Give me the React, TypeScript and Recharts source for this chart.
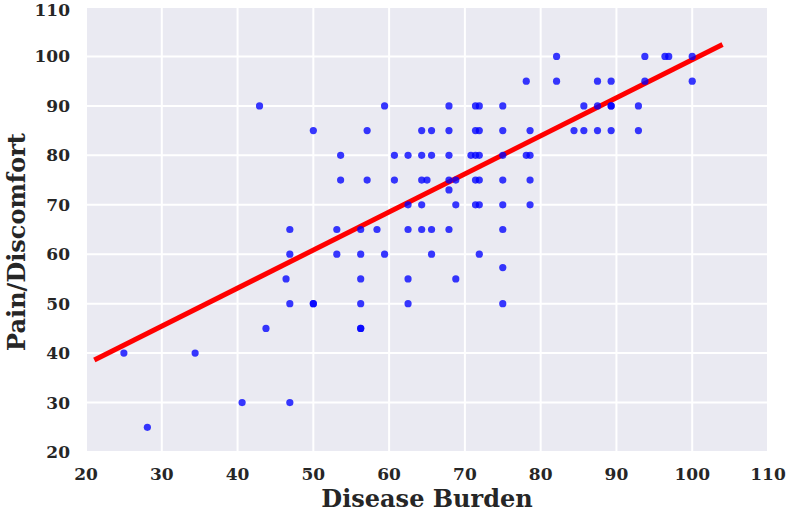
import {
  CartesianGrid,
  Label,
  ReferenceLine,
  Scatter,
  ScatterChart,
  XAxis,
  YAxis,
} from "recharts";

// Disease burden (x) and pain/discomfort (y) for each respondent
const burden = [
  25, 28.1, 34.4, 40.6, 42.9, 43.75, 46.4,
  46.9, 46.9, 46.9, 46.9,
  50, 50, 50,
  53.1, 53.1, 53.6, 53.6,
  56.25, 56.25, 56.25, 56.25, 56.25, 56.25,
  57.1, 57.1, 58.4, 59.4, 59.4, 60.7, 60.7,
  62.5, 62.5, 62.5, 62.5, 62.5,
  64.3, 64.3, 64.3, 64.3, 64.3, 65.0,
  65.6, 65.6, 65.6, 65.6,
  67.9, 67.9, 67.9, 67.9, 67.9, 67.9,
  68.8, 68.8, 68.8, 70.8,
  71.4, 71.4, 71.4, 71.4, 71.4,
  71.9, 71.9, 71.9, 71.9, 71.9, 71.9,
  75, 75, 75, 75, 75, 75, 75, 75,
  78.1, 78.1, 78.6, 78.6, 78.6, 78.6,
  82.1, 82.1, 84.4, 85.7, 85.7,
  87.5, 87.5, 87.5, 89.3, 89.3, 89.3, 89.3,
  92.9, 92.9, 93.75, 93.75, 96.4, 96.9, 100, 100,
];
const pain = [
  40, 25, 40, 30, 90, 45, 55,
  65, 60, 50, 30,
  85, 50, 50,
  65, 60, 80, 75,
  65, 60, 55, 50, 45, 45,
  85, 75, 65, 90, 60, 80, 75,
  80, 70, 65, 55, 50,
  85, 80, 75, 70, 65, 75,
  85, 80, 65, 60,
  90, 85, 80, 75, 73, 65,
  75, 70, 55, 80,
  90, 85, 80, 75, 70,
  90, 85, 80, 75, 70, 60,
  90, 85, 80, 75, 70, 65, 57.3, 50,
  95, 80, 85, 80, 75, 70,
  100, 95, 85, 90, 85,
  95, 90, 85, 95, 90, 90, 85,
  90, 85, 100, 95, 100, 100, 100, 95,
];

// fitted regression line end points
const fitX = [21.1, 104];
const fitY = [38.6, 102.4];

const ticks = [20, 30, 40, 50, 60, 70, 80, 90, 100, 110];

const points = burden.map((x, i) => ({ x, y: pain[i] }));

const font = "'DejaVu Serif', serif";
const tickStyle = { fontSize: 17, fontWeight: 700, fill: "#262626", fontFamily: font };
const titleStyle = { fontSize: 24, fontWeight: 700, fill: "#262626", fontFamily: font };

const Dot = (p: any) => (
  <circle cx={p.cx} cy={p.cy} r={3.6} fill="#0000ff" fillOpacity={0.78} />
);

export default function App() {
  return (
    <div style={{ position: "absolute", left: 0, top: 0, background: "#fff" }}>
      <ScatterChart
        width={787}
        height={513}
        margin={{ top: 7, right: 19, bottom: 0, left: 0 }}
      >
        <CartesianGrid
          fill="#eaeaf2"
          stroke="#ffffff"
          strokeWidth={2}
          horizontalValues={ticks}
          verticalValues={ticks}
        />
        <XAxis
          type="number"
          dataKey="x"
          domain={[20, 110]}
          ticks={ticks}
          axisLine={false}
          tickLine={false}
          tickSize={0}
          tickMargin={16}
          height={61}
          tick={tickStyle}
        >
          <Label
            content={() => (
              <text x={427} y={507} textAnchor="middle" style={titleStyle}>
                Disease Burden
              </text>
            )}
          />
        </XAxis>
        <YAxis
          type="number"
          dataKey="y"
          domain={[20, 110]}
          ticks={ticks}
          axisLine={false}
          tickLine={false}
          tickSize={0}
          tickMargin={16}
          width={86}
          tick={tickStyle}
        >
          <Label
            content={() => (
              <text
                transform="translate(25,242) rotate(-90)"
                textAnchor="middle"
                style={titleStyle}
              >
                Pain/Discomfort
              </text>
            )}
          />
        </YAxis>
        <Scatter data={points} shape={Dot} isAnimationActive={false} />
        <ReferenceLine
          segment={[
            { x: fitX[0], y: fitY[0] },
            { x: fitX[1], y: fitY[1] },
          ]}
          stroke="#ff0000"
          strokeWidth={5}
          ifOverflow="visible"
        />
      </ScatterChart>
    </div>
  );
}
